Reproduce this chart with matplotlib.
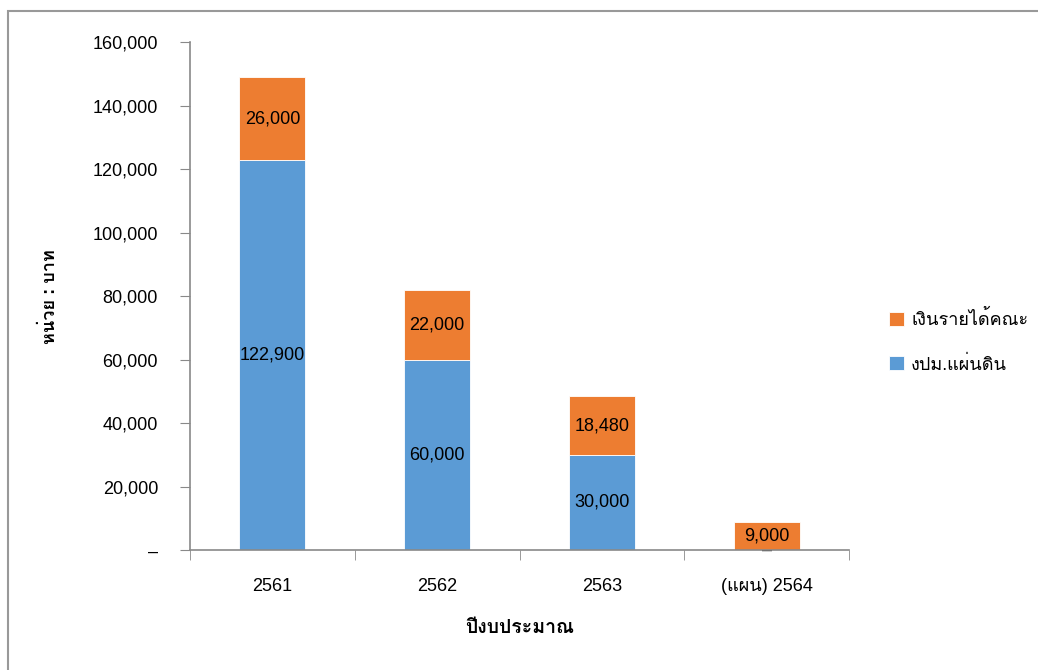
import matplotlib
matplotlib.use("Agg")
import matplotlib.pyplot as plt
from matplotlib import font_manager
from matplotlib.ft2font import FT2Font
from matplotlib.patches import Rectangle

years = ["2561", "2562", "2563", "(แผน) 2564"]
budget = [122900, 60000, 30000, 0]
faculty_income = [26000, 22000, 18480, 9000]
budget_name = "งปม.แผ่นดิน"
income_name = "เงินรายได้คณะ"
y_ticks = [0, 20000, 40000, 60000, 80000, 100000, 120000, 140000, 160000]


def fmt(v):
    return "–" if v == 0 else f"{v:,.0f}"


# find an installed font that has Thai glyphs
thai_family = None
for f in font_manager.fontManager.ttflist:
    try:
        if 0x0E07 in FT2Font(f.fname).get_charmap():
            thai_family = f.name
            break
    except Exception:
        pass
families = ["Liberation Sans"] + ([thai_family] if thai_family else []) + ["DejaVu Sans"]
plt.rcParams["font.family"] = families

blue = "#5B9BD5"
orange = "#ED7D31"
grey = "#898989"

fig = plt.figure(figsize=(10.38, 6.70), dpi=100)
ax = fig.add_axes([0.183, 0.179, 0.635, 0.758])

x = list(range(len(years)))
b1 = ax.bar(x, budget, width=0.4, color=blue, edgecolor="white", linewidth=0.6, label=budget_name)
b2 = ax.bar(x, faculty_income, width=0.4, bottom=budget, color=orange, edgecolor="white",
            linewidth=0.6, label=income_name)

for i in x:
    ax.text(i, budget[i] / 2, fmt(budget[i]), ha="center", va="center", fontsize=13, zorder=1)
    ax.text(i, budget[i] + faculty_income[i] / 2, fmt(faculty_income[i]), ha="center",
            va="center", fontsize=13)

ax.set_xlim(-0.5, len(years) - 0.5)
ax.set_ylim(0, 160000)
ax.set_yticks(y_ticks)
ax.set_yticklabels([fmt(v) for v in y_ticks], fontsize=13)
ax.set_xticks(x)
ax.set_xticklabels(years, fontsize=13)
ax.set_xticks([i - 0.5 for i in range(len(years) + 1)], minor=True)
ax.tick_params(axis="x", which="major", length=0, pad=20)
ax.tick_params(axis="x", which="minor", length=7, color=grey, direction="out")
ax.tick_params(axis="y", length=7, color=grey, pad=16)

for s in ["top", "right"]:
    ax.spines[s].set_visible(False)
for s in ["left", "bottom"]:
    ax.spines[s].set_color(grey)
    ax.spines[s].set_linewidth(1.2)

ax.set_xlabel("ปีงบประมาณ", fontsize=14, fontweight="bold", labelpad=18)
ax.set_ylabel("หน่วย : บาท", fontsize=13, fontweight="bold", labelpad=24)

handles = [b2, b1]
ax.legend(handles, [income_name, budget_name], loc="center left", bbox_to_anchor=(1.06, 0.41),
          frameon=False, fontsize=13, handlelength=0.85, handleheight=0.85, labelspacing=1.45,
          handletextpad=0.4, borderpad=0, borderaxespad=0)

fig.patches.append(Rectangle((8 / 1038, -0.01), 1.1, 1 - 11 / 670 + 0.01, transform=fig.transFigure,
                             fill=False, edgecolor="#999999", linewidth=1.5))

fig.savefig("out.png", dpi=100)
